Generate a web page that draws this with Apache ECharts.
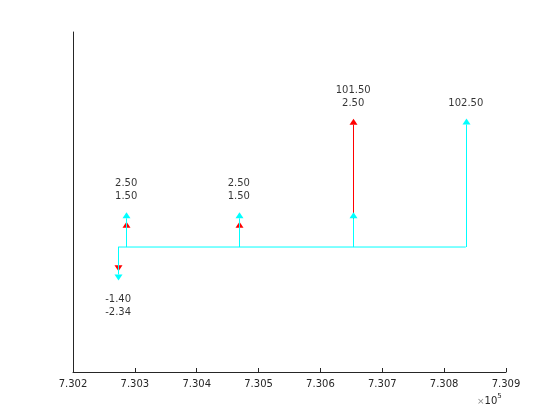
<!DOCTYPE html>
<html>
<head>
<meta charset="utf-8">
<script src="https://cdn.jsdelivr.net/npm/echarts@6/dist/echarts.min.js"></script>
<style>
  html, body { margin:0; padding:0; background:#fff; }
  #chart { width:560px; height:420px; }
</style>
</head>
<body>
<div id="chart"></div>
<script>
// cash flow dates (serial day numbers) and amounts per group
const redDates    = [730273, 730286, 730468, 730653];
const redAmounts  = [-1.40, 1.50, 1.50, 101.50];
const cyanDates   = [730273, 730286, 730468, 730653, 730835];
const cyanAmounts = [-2.34, 2.50, 2.50, 2.50, 102.50];

// text shown above / below each date
const labelDates = [730273, 730286, 730468, 730653, 730835];
const labelTexts = ['-1.40\n-2.34', '2.50\n1.50', '2.50\n1.50', '101.50\n2.50', '102.50'];

const xTicks = [730200, 730300, 730400, 730500, 730600, 730700, 730800, 730900];

// arrows are drawn on a compressed (log) height scale, like the original
function scaleAmt(v) { return Math.sign(v) * Math.log(1 + Math.abs(v)); }

const redData  = redDates.map((d, i) => [d, scaleAmt(redAmounts[i])]);
const cyanData = cyanDates.map((d, i) => [d, scaleAmt(cyanAmounts[i])]);

// label anchor = outermost arrow tip at that date
const posLabels = [], negLabels = [];
labelDates.forEach((d, i) => {
  const vals = [];
  redDates.forEach((rd, j) => { if (rd === d) vals.push(redAmounts[j]); });
  cyanDates.forEach((cd, j) => { if (cd === d) vals.push(cyanAmounts[j]); });
  const mx = Math.max(...vals), mn = Math.min(...vals);
  if (mx > 0) posLabels.push({value: [d, scaleAmt(mx)], txt: labelTexts[i]});
  else negLabels.push({value: [d, scaleAmt(mn)], txt: labelTexts[i]});
});

function arrowRenderer(color) {
  return function (params, api) {
    const x = api.value(0), h = api.value(1);
    const p0 = api.coord([x, 0]);
    const p1 = api.coord([x, h]);
    const dir = h >= 0 ? 1 : -1;
    const headH = 6, headW = 4;
    const px = Math.round(p0[0]) + 0.5;
    return {
      type: 'group',
      children: [
        { type: 'line', shape: { x1: px, y1: p0[1], x2: px, y2: p1[1] + dir * headH },
          style: { stroke: color, lineWidth: 1 } },
        { type: 'polygon', shape: { points: [[px, p1[1]], [px - headW, p1[1] + dir * headH], [px + headW, p1[1] + dir * headH]] },
          style: { fill: color } }
      ]
    };
  };
}

const chart = echarts.init(document.getElementById('chart'));
const AX = '#262626';
const FONT = 'DejaVu Sans';

chart.setOption({
  animation: false,
  backgroundColor: '#fff',
  grid: { left: 73, right: 54, top: 32, bottom: 48 },
  xAxis: {
    type: 'value', min: xTicks[0], max: xTicks[xTicks.length - 1], interval: 100,
    axisLine: { onZero: false, lineStyle: { color: AX, width: 1 } },
    axisTick: { inside: true, length: 4, lineStyle: { color: AX } },
    axisLabel: { color: AX, fontFamily: FONT, fontSize: 10, margin: 7,
                 formatter: v => (v / 1e5).toFixed(3) },
    splitLine: { show: false }
  },
  yAxis: {
    type: 'value', min: -4.51, max: 7.76,
    axisLine: { show: true, onZero: false, lineStyle: { color: AX, width: 1 } },
    axisTick: { show: false }, axisLabel: { show: false }, splitLine: { show: false }
  },
  graphic: [{
    type: 'text', left: 477, top: 393,
    style: { text: '{x|×}{b|10}{s|5}', rich: {
      x: { fill: '#888', fontFamily: FONT, fontSize: 9, padding: [4, 0, 0, 0] },
      b: { fill: AX, fontFamily: FONT, fontSize: 10, padding: [4, 0, 0, 0] },
      s: { fill: AX, fontFamily: FONT, fontSize: 7, padding: [0, 0, 6, 0] }
    } }
  }],
  series: [
    { type: 'line', data: [[cyanDates[0], 0], [cyanDates[cyanDates.length - 1], 0]],
      symbol: 'none', lineStyle: { color: '#00ffff', width: 1 }, z: 1 },
    { type: 'custom', renderItem: arrowRenderer('#ff0000'), data: redData, z: 2 },
    { type: 'custom', renderItem: arrowRenderer('#00ffff'), data: cyanData, z: 3 },
    { type: 'scatter', symbolSize: 0, data: posLabels, z: 4,
      label: { show: true, position: 'top', distance: 9, color: '#000', fontFamily: FONT,
               fontSize: 10, lineHeight: 13, align: 'center',
               formatter: p => p.data.txt } },
    { type: 'scatter', symbolSize: 0, data: negLabels, z: 4,
      label: { show: true, position: 'bottom', distance: 12, color: '#000', fontFamily: FONT,
               fontSize: 10, lineHeight: 13, align: 'center',
               formatter: p => p.data.txt } }
  ]
});
</script>
</body>
</html>
